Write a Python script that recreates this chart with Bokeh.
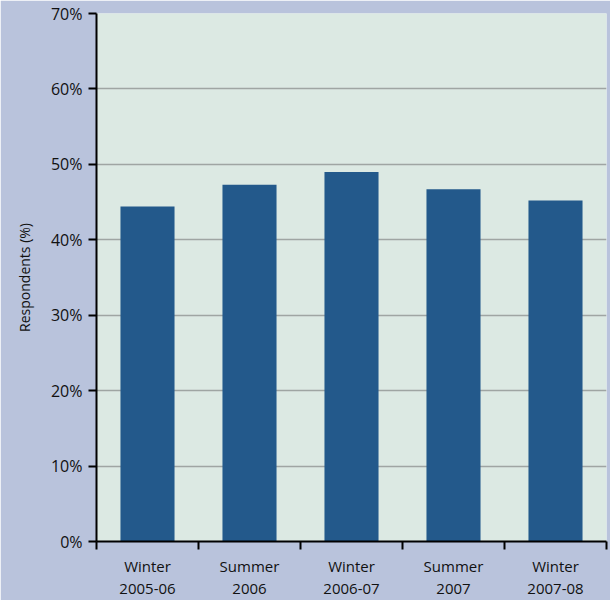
from bokeh.plotting import figure
from bokeh.models import ColumnDataSource, FixedTicker, PrintfTickFormatter, Range1d
from bokeh.embed import file_html
from bokeh.resources import INLINE

categories = ["Winter\n2005-06", "Summer\n2006", "Winter\n2006-07", "Summer\n2007", "Winter\n2007-08"]
values = [44.4, 47.3, 49.0, 46.7, 45.2]
y_ticks = [0, 10, 20, 30, 40, 50, 60, 70]

centers = [i + 0.5 for i in range(len(categories))]
bounds = list(range(len(categories) + 1))

src = ColumnDataSource(dict(x=centers, top=values))

p = figure(frame_width=510, frame_height=528, output_backend="svg", toolbar_location=None,
           x_range=Range1d(0, len(categories)), y_range=Range1d(0, 70),
           min_border_left=96, min_border_right=4, min_border_top=13, min_border_bottom=55)
p.background_fill_color = "#dce9e3"
p.border_fill_color = "#b9c3dc"
p.outline_line_color = None

p.vbar(x="x", top="top", width=0.53, source=src, fill_color="#23598b", line_color=None)

FONT = "Open Sans"

p.xaxis.ticker = FixedTicker(ticks=centers, minor_ticks=bounds)
p.xaxis.major_label_overrides = {c: lab for c, lab in zip(centers, categories)}
p.xaxis.major_tick_line_color = None
p.xaxis.major_tick_in = 0
p.xaxis.major_tick_out = 0
p.xaxis.minor_tick_in = 0
p.xaxis.minor_tick_out = 8
p.xaxis.minor_tick_line_color = "black"
p.xaxis.minor_tick_line_width = 2
p.xaxis.axis_line_color = "black"
p.xaxis.axis_line_width = 2
p.xaxis.major_label_standoff = 6
p.xaxis.major_label_text_font = FONT
p.xaxis.major_label_text_font_size = "15px"
p.xaxis.major_label_text_color = "#111111"
p.xaxis.major_label_text_line_height = 1.1

p.yaxis.ticker = FixedTicker(ticks=y_ticks, minor_ticks=[])
p.yaxis.formatter = PrintfTickFormatter(format="%d%%")
p.yaxis.axis_line_color = "black"
p.yaxis.axis_line_width = 2
p.yaxis.major_tick_line_color = "black"
p.yaxis.major_tick_line_width = 2
p.yaxis.major_tick_in = 0
p.yaxis.major_tick_out = 8
p.yaxis.major_label_standoff = 6
p.yaxis.major_label_text_font = FONT
p.yaxis.major_label_text_font_size = "16px"
p.yaxis.major_label_text_color = "#111111"
p.yaxis.axis_label = "Respondents (%)"
p.yaxis.axis_label_text_font = FONT
p.yaxis.axis_label_text_font_size = "14px"
p.yaxis.axis_label_text_font_style = "normal"
p.yaxis.axis_label_text_color = "#111111"
p.yaxis.axis_label_standoff = 14

p.xgrid.grid_line_color = None
p.ygrid.grid_line_color = "#9fa5a3"
p.ygrid.grid_line_width = 1.5

open("out.html", "w").write(file_html(p, INLINE))
